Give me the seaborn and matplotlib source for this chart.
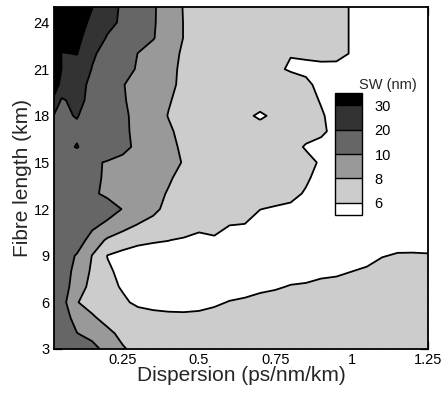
import numpy as np
import matplotlib
matplotlib.use("Agg")
import matplotlib.pyplot as plt
from matplotlib.ticker import MultipleLocator
import seaborn as sns

# ---------------- data ----------------
dispersion = [0.025, 0.05, 0.1, 0.15, 0.2, 0.25, 0.3, 0.35, 0.4, 0.45, 0.5, 0.55, 0.6,
              0.65, 0.7, 0.75, 0.8, 0.85, 0.9, 0.95, 1.0, 1.05, 1.1, 1.15, 1.2, 1.25]
fibre_length = list(range(3, 26))

# spectral width (nm), one row per fibre length (km)
sw_L03 = [14.0, 13.3, 12.0, 10.6, 9.4, 8.2, 7.4, 7.2, 7.1, 7.0, 7.0, 7.0, 7.1, 7.2, 7.2, 7.3, 7.3, 7.3, 7.3, 7.3, 7.3, 7.3, 7.3, 7.3, 7.3, 7.3]
sw_L04 = [13.0, 12.0, 10.05, 9.4, 8.5, 7.46, 7.0, 6.9, 6.8, 6.8, 6.8, 6.9, 7.0, 7.1, 7.2, 7.3, 7.3, 7.3, 7.3, 7.3, 7.3, 7.3, 7.3, 7.3, 7.3, 7.3]
sw_L05 = [12.5, 11.0, 9.3, 8.3, 7.3, 6.9, 6.7, 6.5, 6.4, 6.37, 6.45, 6.7, 6.8, 7.0, 7.1, 7.2, 7.3, 7.3, 7.3, 7.3, 7.3, 7.3, 7.3, 7.3, 7.3, 7.3]
sw_L06 = [12.5, 10.8, 8.1, 7.2, 6.7, 6.26, 5.7, 5.5, 5.4, 5.37, 5.45, 5.7, 6.1, 6.3, 6.6, 6.8, 7.0, 7.1, 7.2, 7.2, 7.2, 7.3, 7.3, 7.3, 7.3, 7.3]
sw_L07 = [12.5, 10.9, 9.1, 7.3, 6.45, 5.85, 5.5, 5.2, 5.0, 5.0, 5.0, 5.0, 5.1, 5.3, 5.6, 5.8, 6.12, 6.25, 6.53, 6.66, 6.98, 7.1, 7.2, 7.2, 7.2, 7.2]
sw_L08 = [12.3, 11.0, 9.4, 7.7, 6.25, 5.6, 5.3, 5.0, 4.9, 4.9, 4.9, 4.9, 4.9, 4.9, 5.0, 5.0, 5.2, 5.25, 5.53, 5.66, 5.98, 6.3, 6.9, 7.0, 7.0, 7.0]
sw_L09 = [12.0, 11.2, 9.8, 7.95, 5.95, 5.33, 5.07, 5.32, 5.3, 5.0, 5.0, 5.0, 5.0, 5.0, 5.0, 5.0, 5.0, 5.0, 5.0, 5.0, 5.0, 5.3, 5.9, 6.18, 6.2, 6.15]
sw_L10 = [12.5, 12.0, 11.27, 9.0, 7.75, 7.2, 6.5, 6.15, 6.03, 5.8, 5.5, 5.59, 5.0, 5.0, 5.0, 5.0, 5.0, 5.0, 5.0, 5.0, 5.0, 5.0, 5.0, 5.2, 5.2, 5.15]
sw_L11 = [13.0, 12.8, 11.8, 10.6, 9.5, 8.6, 7.95, 7.6, 7.3, 7.0, 6.5, 7.0, 6.05, 5.95, 5.3, 5.0, 5.0, 5.0, 5.0, 5.0, 5.0, 5.0, 5.0, 5.0, 5.0, 5.0]
sw_L12 = [14.0, 13.6, 12.6, 11.8, 11.15, 9.9, 9.1, 8.3, 7.62, 7.2, 7.0, 7.0, 7.0, 6.95, 6.03, 5.8, 5.6, 5.3, 5.0, 5.0, 5.0, 5.0, 5.0, 5.0, 5.0, 5.0]
sw_L13 = [14.0, 13.5, 12.3, 10.4, 9.5, 9.2, 8.9, 8.4, 7.9, 7.5, 7.3, 7.2, 7.1, 7.0, 6.9, 6.8, 6.55, 5.8, 5.3, 5.0, 5.0, 5.0, 5.0, 5.0, 5.0, 5.0]
sw_L14 = [14.5, 14.0, 12.5, 10.6, 9.6, 9.3, 9.0, 8.7, 8.15, 7.6, 7.3, 7.2, 7.1, 7.0, 7.0, 6.9, 6.8, 6.3, 5.3, 5.0, 5.0, 5.0, 5.0, 5.0, 5.0, 5.0]
sw_L15 = [15.0, 14.5, 13.0, 10.6, 9.7, 9.5, 9.2, 8.9, 8.5, 7.9, 7.5, 7.3, 7.2, 7.1, 7.0, 7.0, 6.9, 6.5, 5.8, 5.3, 5.0, 5.0, 5.0, 5.0, 5.0, 5.0]
sw_L16 = [16.0, 16.5, 20.6, 15.0, 12.5, 10.5, 9.6, 9.0, 8.3, 7.8, 7.4, 7.2, 7.1, 7.0, 7.0, 6.9, 6.6, 5.85, 5.5, 5.0, 5.0, 5.0, 5.0, 5.0, 5.0, 5.0]
sw_L17 = [18.0, 17.5, 18.0, 15.5, 13.0, 10.4, 9.5, 8.8, 8.2, 7.6, 7.3, 7.2, 7.1, 7.0, 6.85, 6.9, 6.9, 6.6, 6.3, 5.5, 5.0, 5.0, 5.0, 5.0, 5.0, 5.0]
sw_L18 = [19.6, 18.5, 20.5, 16.0, 13.5, 10.4, 9.4, 8.6, 7.95, 7.5, 7.2, 7.0, 6.8, 6.4, 5.7, 6.4, 6.7, 6.6, 6.15, 5.5, 5.0, 5.0, 5.0, 5.0, 5.0, 5.0]
sw_L19 = [27.0, 19.0, 22.5, 17.5, 13.5, 10.2, 9.3, 8.7, 8.1, 7.6, 7.3, 7.1, 7.0, 6.9, 6.85, 7.0, 7.0, 6.5, 5.9, 5.5, 5.0, 5.0, 5.0, 5.0, 5.0, 5.0]
sw_L20 = [37.0, 26.0, 24.0, 17.5, 13.5, 10.1, 9.3, 8.8, 8.3, 7.7, 7.4, 7.2, 7.1, 7.0, 7.0, 7.1, 7.2, 6.3, 5.6, 5.3, 5.0, 5.0, 5.0, 5.0, 5.0, 5.0]
sw_L21 = [40.0, 29.8, 25.5, 19.7, 15.0, 11.5, 9.6, 9.0, 8.4, 7.7, 7.4, 7.2, 7.1, 7.0, 6.9, 6.4, 5.75, 5.7, 5.5, 5.6, 5.0, 5.0, 5.0, 5.0, 5.0, 5.0]
sw_L22 = [41.0, 29.5, 30.3, 21.0, 17.5, 13.0, 9.9, 9.2, 8.5, 7.8, 7.5, 7.3, 7.2, 7.1, 7.0, 6.9, 6.09, 6.2, 6.54, 6.4, 5.9, 5.0, 5.0, 5.0, 5.0, 5.0]
sw_L23 = [42.0, 35.0, 31.5, 27.0, 19.0, 15.0, 12.0, 10.1, 9.0, 7.95, 7.5, 7.3, 7.2, 7.1, 7.0, 7.0, 6.9, 6.8, 6.7, 6.4, 5.9, 5.0, 5.0, 5.0, 5.0, 5.0]
sw_L24 = [43.0, 37.0, 33.0, 28.5, 23.0, 18.2, 13.0, 10.2, 9.0, 7.95, 7.5, 7.3, 7.2, 7.1, 7.0, 7.0, 7.0, 6.9, 6.8, 6.4, 5.9, 5.0, 5.0, 5.0, 5.0, 5.0]
sw_L25 = [44.0, 38.0, 34.0, 30.2, 24.0, 18.5, 13.5, 10.2, 9.1, 7.9, 7.5, 7.3, 7.2, 7.1, 7.0, 7.0, 7.0, 6.9, 6.8, 6.4, 5.9, 5.0, 5.0, 5.0, 5.0, 5.0]

sw_levels = [6, 8, 10, 20, 30]
sw_colors = ["#ffffff", "#cccccc", "#999999", "#666666", "#333333", "#000000"]
xtick_values = [0.25, 0.5, 0.75, 1.0, 1.25]
xtick_labels = ["0.25", "0.5", "0.75", "1", "1.25"]
ytick_values = [3, 6, 9, 12, 15, 18, 21, 24]

# ---------------- style ----------------
sns.set_theme(style="ticks")
plt.rcParams["font.family"] = ["Liberation Sans", "DejaVu Sans"]
plt.rcParams["axes.linewidth"] = 1.2

sw_table = np.array([sw_L03, sw_L04, sw_L05, sw_L06, sw_L07, sw_L08, sw_L09, sw_L10,
                     sw_L11, sw_L12, sw_L13, sw_L14, sw_L15, sw_L16, sw_L17, sw_L18,
                     sw_L19, sw_L20, sw_L21, sw_L22, sw_L23, sw_L24, sw_L25])
X, Y = np.meshgrid(np.array(dispersion), np.array(fibre_length))

fig = plt.figure(figsize=(4.41, 3.94), dpi=100)
ax = fig.add_axes([54 / 441, 1 - 349 / 394, (428 - 54) / 441, (349 - 7) / 394])

cs = ax.contourf(X, Y, sw_table, levels=sw_levels, colors=sw_colors, extend="both")
ax.contour(X, Y, sw_table, levels=sw_levels, colors="black", linewidths=1.3)

ax.set_xlim(0.025, 1.25)
ax.set_ylim(3, 25)
ax.set_xticks(xtick_values)
ax.set_xticklabels(xtick_labels)
ax.set_yticks(ytick_values)
ax.xaxis.set_minor_locator(MultipleLocator(0.05))
ax.yaxis.set_minor_locator(MultipleLocator(1))
ax.tick_params(which="both", direction="in", top=True, right=True,
               colors="black", labelsize=10.5, width=0.9, pad=3)
ax.tick_params(which="major", length=6)
ax.tick_params(which="minor", length=3)
for s in ax.spines.values():
    s.set_color("black")
    s.set_linewidth(1.3)

ax.set_xlabel("Dispersion (ps/nm/km)", fontsize=15, labelpad=-1)
ax.set_ylabel("Fibre length (km)", fontsize=15, labelpad=1)

# legend (colour key) inside the plot
cax = fig.add_axes([335 / 441, 1 - 215 / 394, 27 / 441, 122 / 394])
cbar = fig.colorbar(cs, cax=cax, ticks=sw_levels, extendrect=True,
                    extendfrac=0.125, drawedges=True)
cbar.ax.tick_params(length=0, labelsize=10.5, pad=9, colors="black")
cbar.outline.set_edgecolor("black")
cbar.outline.set_linewidth(1.0)
cbar.dividers.set_color("black")
cbar.dividers.set_linewidth(1.0)
fig.text(388 / 441, 1 - 85 / 394, "SW (nm)", fontsize=10.5, ha="center", va="center")

fig.savefig("out.png", dpi=100)
